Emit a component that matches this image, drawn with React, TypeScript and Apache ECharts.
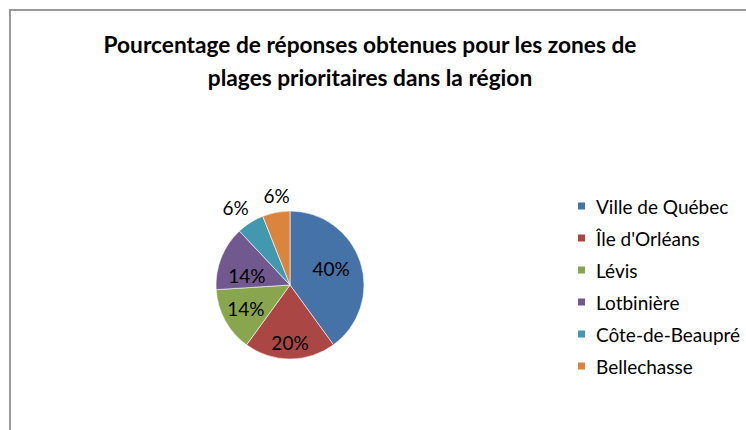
import React, { useEffect, useRef } from "react";
import * as echarts from "echarts";

const categories = ["Ville de Québec", "Île d'Orléans", "Lévis", "Lotbinière", "Côte-de-Beaupré", "Bellechasse"];
const values = [40, 20, 14, 14, 6, 6];
const colors = ["#4572A7", "#AA4643", "#89A54E", "#71588F", "#4198AF", "#DB843D"];
const labelOffsets: [number, number][] = [[3, -4], [0, 17], [-9, 4], [-6, 5], [-33, -44], [-6, -50]];
const titleText = "Pourcentage de réponses obtenues pour les zones de\nplages prioritaires dans la région";

export default function App() {
  const ref = useRef<HTMLDivElement>(null);
  useEffect(() => {
    const chart = echarts.init(ref.current!, null, { renderer: "svg" });
    chart.setOption({
      animation: false,
      backgroundColor: "#ffffff",
      title: {
        text: titleText,
        left: 365,
        textAlign: "center",
        top: 23,
        textStyle: {
          fontFamily: "Lato",
          fontWeight: "bold",
          fontSize: 22.7,
          lineHeight: 33,
          color: "#000",
        },
      },
      graphic: [
        {
          type: "rect",
          shape: { x: 10, y: 10, width: 800, height: 500 },
          style: { fill: "none", stroke: "#9a9a9a", lineWidth: 2 },
          silent: true,
        },
      ],
      legend: {
        orient: "vertical",
        left: 576,
        top: 196,
        padding: 0,
        itemWidth: 9,
        itemHeight: 9,
        itemGap: 12,
        icon: "rect",
        data: categories,
        textStyle: {
          fontFamily: "Lato",
          fontSize: 19,
          lineHeight: 20,
          color: "#000",
          padding: [0, 0, 0, 5],
        },
      },
      series: [
        {
          type: "pie",
          center: [290, 285],
          radius: 74,
          startAngle: 90,
          clockwise: true,
          color: colors,
          itemStyle: { borderColor: "#ffffff", borderWidth: 0.6 },
          labelLine: { show: false },
          label: {
            show: true,
            position: "inside",
            formatter: "{c}%",
            fontFamily: "Lato",
            fontSize: 19,
            color: "#000",
          },
          data: categories.map((name, i) => ({
            name,
            value: values[i],
            label: { offset: labelOffsets[i] },
          })),
        },
      ],
    });
    return () => chart.dispose();
  }, []);
  return <div ref={ref} style={{ position: "absolute", left: 0, top: 0, width: 746, height: 430 }} />;
}
